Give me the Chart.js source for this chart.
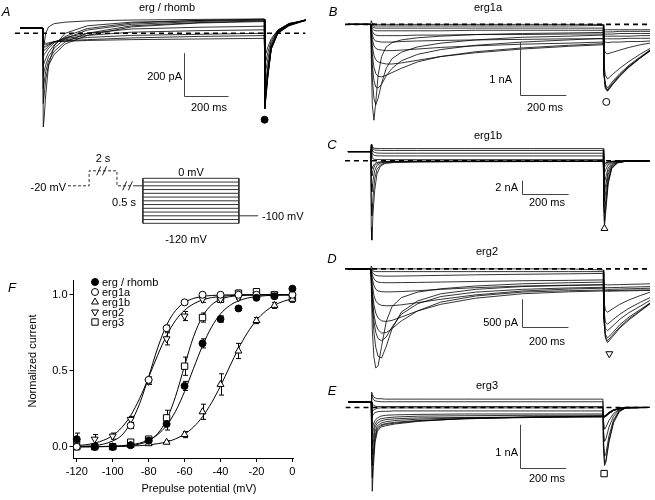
<!DOCTYPE html>
<html>
<head>
<meta charset="utf-8">
<title>erg currents and activation curves</title>
<script src="https://cdn.jsdelivr.net/npm/chart.js@4.4.1/dist/chart.umd.min.js"></script>
<style>
  html, body { margin: 0; padding: 0; background: #fff; }
  #fig { position: relative; width: 655px; height: 500px; overflow: hidden;
         font-family: "Liberation Sans", Arial, Helvetica, sans-serif; font-size: 11px; color: #000; }
  #fig canvas { position: absolute; }
  .t { position: absolute; white-space: nowrap; line-height: 1; }
  .c { transform: translate(-50%, -50%); }
  .l { transform: translate(0, -50%); }
  .r { transform: translate(-100%, -50%); }
  .lab { font-style: italic; font-size: 13px; }
</style>
</head>
<body>
<div id="fig">
  <canvas id="cA" width="305" height="135" style="left:10px;top:0px"></canvas>
  <canvas id="cProto" width="300" height="100" style="left:20px;top:150px"></canvas>
  <canvas id="cF" width="330" height="230" style="left:0px;top:270px"></canvas>
  <canvas id="cB" width="315" height="130" style="left:340px;top:0px"></canvas>
  <canvas id="cC" width="315" height="122" style="left:340px;top:128px"></canvas>
  <canvas id="cD" width="315" height="130" style="left:340px;top:250px"></canvas>
  <canvas id="cE" width="315" height="122" style="left:340px;top:378px"></canvas>

  <!-- panel A -->
  <span class="t c lab" style="left:6px;top:11px">A</span>
  <span class="t c" style="left:167px;top:7px">erg / rhomb</span>
  <span class="t r" style="left:182px;top:76px">200 pA</span>
  <span class="t c" style="left:209px;top:107px">200 ms</span>
  <!-- protocol -->
  <span class="t r" style="left:66px;top:187px">-20 mV</span>
  <span class="t c" style="left:103px;top:158px">2 s</span>
  <span class="t c" style="left:124px;top:202px">0.5 s</span>
  <span class="t c" style="left:191px;top:172px">0 mV</span>
  <span class="t c" style="left:186px;top:239px">-120 mV</span>
  <span class="t l" style="left:262px;top:216px">-100 mV</span>
  <!-- panel B -->
  <span class="t c lab" style="left:333px;top:11px">B</span>
  <span class="t c" style="left:488px;top:7px">erg1a</span>
  <span class="t r" style="left:512px;top:79px">1 nA</span>
  <span class="t c" style="left:545px;top:107px">200 ms</span>
  <!-- panel C -->
  <span class="t c lab" style="left:332px;top:144px">C</span>
  <span class="t c" style="left:488px;top:135px">erg1b</span>
  <span class="t r" style="left:518px;top:187px">2 nA</span>
  <span class="t c" style="left:547px;top:202px">200 ms</span>
  <!-- panel D -->
  <span class="t c lab" style="left:332px;top:258px">D</span>
  <span class="t c" style="left:487px;top:251px">erg2</span>
  <span class="t r" style="left:518px;top:322px">500 pA</span>
  <span class="t c" style="left:547px;top:341px">200 ms</span>
  <!-- panel E -->
  <span class="t c lab" style="left:332px;top:390px">E</span>
  <span class="t c" style="left:487px;top:385px">erg3</span>
  <span class="t r" style="left:518px;top:452px">1 nA</span>
  <span class="t c" style="left:547px;top:478px">200 ms</span>
  <!-- panel F -->
  <span class="t c lab" style="left:12px;top:287px">F</span>
  <span class="t c" style="left:32px;top:361px;transform:translate(-50%,-50%) rotate(-90deg)">Normalized current</span>
  <span class="t c" style="left:199px;top:488px">Prepulse potential (mV)</span>
  <span class="t l" style="left:102px;top:282px">erg / rhomb</span>
  <span class="t l" style="left:102px;top:292px">erg1a</span>
  <span class="t l" style="left:102px;top:302px">erg1b</span>
  <span class="t l" style="left:102px;top:312px">erg2</span>
  <span class="t l" style="left:102px;top:322px">erg3</span>
</div>

<script>
// ── Panel F data: normalized tail current vs prepulse potential ──────────────
const vF = [-120, -110, -100, -90, -80, -70, -60, -50, -40, -30, -20, -10, 0];
const rhombMean = [0.05, 0.00, 0.00, 0.01, 0.04, 0.15, 0.40, 0.68, 0.84, 0.91, 0.98, 0.99, 1.04];
const erg1aMean = [0.00, 0.00, 0.00, 0.14, 0.44, 0.78, 0.95, 1.00, 1.00, 1.00, 1.00, 1.00, 1.00];
const erg1bMean = [0.00, 0.00, 0.00, 0.01, 0.02, 0.03, 0.08, 0.23, 0.41, 0.63, 0.83, 0.93, 0.97];
const erg2Mean  = [0.02, 0.05, 0.07, 0.18, 0.43, 0.71, 0.86, 0.97, 0.97, 0.98, 1.00, 1.00, 0.99];
const erg3Mean  = [0.00, 0.00, 0.00, 0.03, 0.05, 0.19, 0.53, 0.85, 0.97, 1.01, 1.02, 1.00, 0.98];

const rhombErr = [0.04, 0.01, 0.01, 0.01, 0.01, 0.04, 0.03, 0.03, 0.02, 0.01, 0.01, 0.01, 0.01];
const erg1aErr = [0.01, 0.01, 0.01, 0.02, 0.02, 0.02, 0.01, 0.01, 0.01, 0.01, 0.01, 0.01, 0.01];
const erg1bErr = [0.01, 0.01, 0.01, 0.01, 0.01, 0.01, 0.02, 0.05, 0.07, 0.05, 0.02, 0.02, 0.02];
const erg2Err  = [0.03, 0.03, 0.02, 0.02, 0.02, 0.04, 0.03, 0.02, 0.01, 0.01, 0.01, 0.01, 0.01];
const erg3Err  = [0.01, 0.01, 0.01, 0.01, 0.01, 0.05, 0.06, 0.03, 0.02, 0.02, 0.02, 0.01, 0.01];

// fitted curves, read every 5 mV
const vFit = [-120, -115, -110, -105, -100, -95, -90, -85, -80, -75, -70, -65, -60, -55, -50, -45, -40, -35, -30, -25, -20, -15, -10, -5, 0];
const rhombFit = [0.000, 0.001, 0.001, 0.002, 0.004, 0.007, 0.013, 0.024, 0.045, 0.080, 0.140, 0.234, 0.363, 0.516, 0.665, 0.787, 0.874, 0.928, 0.960, 0.978, 0.988, 0.994, 0.997, 0.998, 0.999];
const erg1aFit = [0.002, 0.004, 0.008, 0.018, 0.038, 0.075, 0.156, 0.284, 0.460, 0.649, 0.800, 0.896, 0.949, 0.976, 0.989, 0.995, 0.998, 0.999, 1.000, 1.000, 1.000, 1.000, 1.000, 1.000, 1.000];
const erg1bFit = [0.000, 0.000, 0.001, 0.001, 0.002, 0.003, 0.005, 0.007, 0.012, 0.020, 0.032, 0.052, 0.083, 0.130, 0.198, 0.289, 0.400, 0.525, 0.646, 0.750, 0.832, 0.891, 0.931, 0.957, 0.973];
const erg2Fit  = [0.008, 0.013, 0.024, 0.043, 0.074, 0.126, 0.205, 0.318, 0.456, 0.602, 0.731, 0.831, 0.898, 0.940, 0.966, 0.981, 0.989, 0.994, 0.997, 0.998, 0.999, 1.000, 1.000, 1.000, 1.000];
const erg3Fit  = [0.000, 0.000, 0.000, 0.001, 0.002, 0.003, 0.008, 0.018, 0.039, 0.086, 0.178, 0.332, 0.533, 0.724, 0.858, 0.933, 0.970, 0.987, 0.994, 0.998, 0.999, 1.000, 1.000, 1.000, 1.000];

const xTicksF = [-120, -100, -80, -60, -40, -20, 0];
const yTicksF = [0, 0.5, 1.0];

// ── Panel A: erg / rhomb currents (pA) ────────────────────────────────────────
const tA = [-104, -1, 1, 5, 12, 25, 50, 100, 200, 400, 700, 999, 1001, 1006, 1015, 1030, 1060, 1110, 1187];
const tracesA = [
  [24, 24, -440, -400, -290, -150, -60,   0,  35,  52,  60,  63, -355, -300, -200, -75,  0, 35, 60],
  [24, 24, -330, -290, -215, -150, -100, -50, -10,  30,  48,  55, -350, -295, -195, -72,  2, 37, 62],
  [24, 24, -260, -230, -180, -130,  -85, -40,   0,  35,  50,  58, -340, -285, -190, -70,  3, 38, 61],
  [24, 24, -200, -180, -150, -110,  -70, -25,  15,  42,  55,  62, -330, -280, -185, -68,  5, 40, 63],
  [24, 24, -150, -140, -120,  -90,  -55, -15,  22,  48,  60,  66, -320, -270, -180, -65,  6, 40, 62],
  [24, 24, -110, -100,  -90,  -70,  -45, -20,   0,  20,  28,  33, -300, -255, -170, -62,  8, 42, 64],
  [24, 24,  -80,  -80,  -75,  -60,  -40, -25, -10,   5,  12,  16, -260, -220, -150, -55, 10, 42, 63],
  [24, 24,  -60,  -65,  -63,  -55,  -40, -30, -20, -10,  -5,   0, -200, -170, -120, -45, 12, 45, 60],
  [24, 24,  -40,  -50,  -55,  -50,  -40, -35, -30, -22, -15, -11, -150, -130,  -90, -35, 15, 45, 62],
  [24, 24,  -25,  -40,  -48,  -45,  -40, -38, -34, -30, -27, -24, -110,  -95,  -65, -25, 15, 46, 60],
  [24, 24, -100,  -50,    0,   30,   45,  52,  58,  62,  65,  67, -355, -300, -200, -75,  0, 36, 64]
];

// ── Panel B: erg1a currents (nA) ──────────────────────────────────────────────
const tB = [-100, -1, 0.5, 5, 12, 20, 30, 45, 65, 90, 130, 200, 300, 450, 650, 850, 999, 1001, 1008, 1017, 1040, 1070, 1110, 1160, 1200];
const tracesB = [
  [0, 0, -0.6, -1.5, -1.79, -1.45, -0.95, -0.6, -0.42, -0.34, -0.29, -0.25, -0.22, -0.19, -0.17, -0.16, -0.15, -0.10, -0.10, -0.10, -0.10, -0.10, -0.10, -0.10, -0.10],
  [0, 0, -0.4, -1.0, -1.38, -1.50, -1.38, -1.10, -0.82, -0.64, -0.52, -0.42, -0.35, -0.29, -0.24, -0.22, -0.20, -0.14, -0.14, -0.14, -0.14, -0.13, -0.13, -0.13, -0.13],
  [0, 0, -0.3, -0.75, -1.05, -1.17, -1.19, -1.12, -0.96, -0.82, -0.68, -0.56, -0.47, -0.39, -0.33, -0.29, -0.26, -0.18, -0.18, -0.18, -0.18, -0.17, -0.17, -0.17, -0.17],
  [0, 0, -0.2, -0.55, -0.8, -0.92, -0.97, -0.98, -0.95, -0.90, -0.82, -0.70, -0.60, -0.51, -0.44, -0.39, -0.36, -0.22, -0.22, -0.22, -0.22, -0.22, -0.22, -0.21, -0.21],
  [0, 0, -0.15, -0.4, -0.58, -0.66, -0.70, -0.72, -0.74, -0.74, -0.72, -0.67, -0.60, -0.53, -0.46, -0.41, -0.38, -0.27, -0.27, -0.27, -0.27, -0.27, -0.26, -0.26, -0.26],
  [0, 0, -0.1, -0.28, -0.4, -0.45, -0.47, -0.48, -0.49, -0.49, -0.48, -0.46, -0.43, -0.40, -0.37, -0.35, -0.33, -0.31, -0.33, -0.34, -0.33, -0.33, -0.32, -0.32, -0.31],
  [0, 0, -0.07, -0.2, -0.28, -0.31, -0.32, -0.33, -0.33, -0.33, -0.32, -0.31, -0.30, -0.29, -0.28, -0.27, -0.27, -0.45, -0.53, -0.55, -0.52, -0.48, -0.43, -0.38, -0.35],
  [0, 0, -0.05, -0.13, -0.18, -0.2, -0.21, -0.21, -0.21, -0.21, -0.21, -0.20, -0.20, -0.19, -0.19, -0.18, -0.18, -0.75, -0.95, -1.02, -0.93, -0.82, -0.69, -0.55, -0.45],
  [0, 0, -0.03, -0.08, -0.11, -0.12, -0.12, -0.12, -0.12, -0.12, -0.12, -0.12, -0.12, -0.11, -0.11, -0.11, -0.11, -0.85, -1.12, -1.19, -1.06, -0.92, -0.76, -0.60, -0.48],
  [0, 0, -0.02, -0.05, -0.06, -0.07, -0.07, -0.07, -0.07, -0.07, -0.07, -0.07, -0.07, -0.07, -0.07, -0.07, -0.07, -0.88, -1.16, -1.22, -1.09, -0.94, -0.78, -0.62, -0.49],
  [0, 0, 0, -0.02, -0.03, -0.03, -0.03, -0.03, -0.03, -0.03, -0.03, -0.03, -0.03, -0.03, -0.03, -0.03, -0.02, -0.90, -1.18, -1.24, -1.11, -0.96, -0.79, -0.62, -0.50],
  [0, 0, 0.07, 0.02, 0.01, 0, 0, 0, 0, 0, 0, 0, 0, 0, 0, 0, 0, -0.90, -1.20, -1.25, -1.12, -0.97, -0.80, -0.62, -0.48]
];

// ── Panel C: erg1b currents (nA) ──────────────────────────────────────────────
const tC = [-100, -1, 0.5, 3, 8, 15, 25, 40, 60, 100, 200, 400, 700, 999, 1001, 1004, 1010, 1020, 1035, 1060, 1100, 1200];
const tracesC = [
  [1.39, 1.39, 2.5, 2.3, 2.0, 1.9, 1.88, 1.86, 1.85, 1.85, 1.85, 1.85, 1.85, 1.85, -7.0, -10.0, -7.5, -3.5, -1.2, -0.3, -0.05, 0],
  [1.39, 1.39, 2.4, 2.1, 1.8, 1.65, 1.6, 1.58, 1.57, 1.57, 1.57, 1.57, 1.57, 1.57, -6.5, -9.2, -6.8, -3.2, -1.1, -0.3, -0.05, 0],
  [1.39, 1.39, 2.2, 1.8, 1.4, 1.25, 1.18, 1.16, 1.15, 1.15, 1.15, 1.15, 1.15, 1.15, -5.5, -7.9, -5.8, -2.8, -1.0, -0.25, -0.05, 0],
  [1.39, 1.39, 1.8, 1.3, 0.95, 0.8, 0.76, 0.75, 0.74, 0.74, 0.74, 0.74, 0.74, 0.74, -4.3, -6.1, -4.5, -2.1, -0.8, -0.2, -0.05, 0],
  [1.39, 1.39, 1.0, 0.5, 0.3, 0.22, 0.2, 0.19, 0.18, 0.18, 0.18, 0.18, 0.18, 0.18, -3.2, -4.7, -3.5, -1.6, -0.6, -0.15, -0.03, 0],
  [1.39, 1.39, -1.0, -1.2, -0.8, -0.45, -0.25, -0.15, -0.1, -0.08, -0.06, -0.05, -0.04, -0.04, -2.2, -3.3, -2.4, -1.1, -0.4, -0.1, -0.02, 0],
  [1.39, 1.39, -1.8, -2.3, -1.4, -0.75, -0.4, -0.22, -0.15, -0.1, -0.08, -0.06, -0.05, -0.05, -1.2, -1.8, -1.3, -0.6, -0.25, -0.08, -0.02, 0],
  [1.39, 1.39, -3.5, -4.7, -3.0, -1.5, -0.7, -0.35, -0.2, -0.13, -0.1, -0.08, -0.07, -0.06, -0.6, -0.9, -0.7, -0.35, -0.15, -0.05, -0.01, 0],
  [1.39, 1.39, -6.5, -8.3, -5.5, -2.8, -1.3, -0.6, -0.3, -0.18, -0.13, -0.1, -0.08, -0.08, -0.4, -0.5, -0.4, -0.2, -0.1, -0.04, -0.01, 0],
  [1.39, 1.39, -10.0, -12.0, -8.0, -4.5, -2.0, -0.8, -0.4, -0.25, -0.18, -0.14, -0.12, -0.1, -0.3, -0.35, -0.3, -0.15, -0.08, -0.03, -0.01, 0]
];

// ── Panel D: erg2 currents (pA) ───────────────────────────────────────────────
const tD = [-100, -1, 0.5, 5, 12, 20, 30, 45, 65, 90, 130, 200, 300, 450, 650, 850, 999, 1001, 1008, 1017, 1040, 1070, 1110, 1160, 1200];
const tracesD = [
  [0, 0, -300, -1100, -1600, -1790, -1750, -1400, -950, -680, -520, -420, -360, -310, -270, -250, -240, -270, -285, -290, -288, -285, -280, -275, -270],
  [0, 0, -200, -700, -1150, -1420, -1580, -1610, -1400, -1080, -780, -580, -450, -370, -320, -300, -290, -320, -335, -340, -338, -335, -330, -325, -320],
  [0, 0, -180, -600, -950, -1150, -1260, -1300, -1230, -1050, -820, -630, -500, -420, -370, -345, -333, -350, -365, -370, -368, -365, -360, -355, -350],
  [0, 0, -150, -500, -820, -1000, -1100, -1160, -1150, -1080, -940, -760, -600, -490, -420, -395, -383, -385, -390, -392, -390, -388, -385, -382, -380],
  [0, 0, -120, -400, -650, -800, -890, -940, -950, -930, -870, -760, -640, -530, -450, -415, -400, -400, -405, -405, -403, -400, -397, -393, -390],
  [0, 0, -80, -280, -480, -580, -630, -660, -667, -665, -650, -610, -550, -470, -400, -365, -350, -550, -750, -783, -720, -640, -560, -480, -420],
  [0, 0, -50, -180, -300, -370, -400, -412, -417, -415, -410, -395, -370, -340, -310, -295, -285, -700, -960, -1000, -920, -820, -710, -600, -520],
  [0, 0, -30, -110, -180, -220, -240, -248, -250, -250, -248, -245, -238, -228, -215, -208, -200, -780, -1080, -1117, -1030, -910, -790, -670, -570],
  [0, 0, -15, -60, -100, -118, -126, -130, -132, -132, -130, -125, -118, -108, -98, -90, -83, -850, -1180, -1250, -1150, -1010, -870, -730, -615],
  [0, 0, -8, -30, -45, -50, -50, -50, -50, -50, -50, -50, -50, -50, -50, -50, -50, -880, -1220, -1300, -1190, -1050, -900, -750, -625],
  [0, 0, 50, 10, 0, 0, 0, 0, 0, 0, 0, 0, 0, 0, 0, 0, -20, -900, -1250, -1333, -1220, -1070, -920, -760, -633]
];

// ── Panel E: erg3 currents (nA) ───────────────────────────────────────────────
const tE = [-100, -1, 0.5, 3, 8, 15, 25, 40, 60, 100, 200, 400, 700, 999, 1001, 1006, 1012, 1025, 1045, 1070, 1100, 1200];
const tracesE = [
  [0.125, 0.125, 0.35, 0.3, 0.25, 0.22, 0.2, 0.2, 0.19, 0.19, 0.19, 0.19, 0.19, 0.19, -0.9, -1.33, -1.25, -0.8, -0.35, -0.1, 0, 0],
  [0.125, 0.125, 0.3, 0.25, 0.18, 0.15, 0.14, 0.13, 0.13, 0.13, 0.13, 0.13, 0.13, 0.13, -0.85, -1.28, -1.2, -0.75, -0.32, -0.08, 0, 0],
  [0.125, 0.125, 0.12, 0.08, 0.05, 0.03, 0.02, 0.02, 0.02, 0.02, 0.02, 0.02, 0.02, 0.02, -0.7, -1.12, -1.05, -0.65, -0.28, -0.07, -0.01, 0],
  [0.125, 0.125, -0.12, -0.1, -0.06, -0.04, -0.02, -0.01, -0.01, -0.01, -0.01, -0.01, -0.01, -0.01, -0.5, -0.78, -0.72, -0.45, -0.2, -0.05, -0.01, 0],
  [0.125, 0.125, -0.22, -0.2, -0.15, -0.12, -0.1, -0.09, -0.09, -0.08, -0.08, -0.08, -0.08, -0.08, -0.3, -0.5, -0.45, -0.3, -0.14, -0.04, -0.01, 0],
  [0.125, 0.125, -0.4, -0.47, -0.38, -0.3, -0.24, -0.2, -0.18, -0.17, -0.16, -0.15, -0.15, -0.15, -0.2, -0.22, -0.2, -0.14, -0.07, -0.03, -0.01, 0],
  [0.125, 0.125, -0.55, -0.64, -0.5, -0.38, -0.3, -0.26, -0.24, -0.22, -0.2, -0.19, -0.18, -0.18, -0.21, -0.22, -0.2, -0.14, -0.07, -0.03, -0.01, 0],
  [0.125, 0.125, -0.7, -0.85, -0.65, -0.45, -0.36, -0.31, -0.28, -0.26, -0.24, -0.23, -0.22, -0.22, -0.22, -0.22, -0.2, -0.14, -0.07, -0.03, -0.01, 0],
  [0.125, 0.125, -0.8, -1.09, -0.8, -0.55, -0.42, -0.36, -0.33, -0.3, -0.27, -0.24, -0.22, -0.21, -0.21, -0.21, -0.19, -0.13, -0.06, -0.02, 0, 0],
  [0.125, 0.125, -0.9, -1.33, -1.0, -0.65, -0.47, -0.4, -0.37, -0.34, -0.3, -0.26, -0.23, -0.21, -0.2, -0.2, -0.18, -0.12, -0.06, -0.02, 0, 0],
  [0.125, 0.125, -1.0, -1.61, -1.15, -0.72, -0.5, -0.42, -0.39, -0.36, -0.31, -0.26, -0.22, -0.2, -0.2, -0.2, -0.18, -0.12, -0.06, -0.02, 0, 0],
  [0.125, 0.125, -1.2, -1.92, -1.35, -0.8, -0.55, -0.45, -0.42, -0.38, -0.32, -0.25, -0.22, -0.2, -0.19, -0.19, -0.17, -0.11, -0.05, -0.02, 0, 0]
];

// ── Voltage protocol (schematic, compressed time) ─────────────────────────────
const protoT = [0, 220, 510, 690, 780, 1780, 1980];
const holdV = -20;
const condV = 20;
const tailV = -100;
const testV = [0, -10, -20, -30, -40, -50, -60, -70, -80, -90, -100, -110, -120];

// ── Setup ─────────────────────────────────────────────────────────────────────
Chart.defaults.font.family = '"Liberation Sans", Arial, Helvetica, sans-serif';
Chart.defaults.font.size = 11;
Chart.defaults.color = '#000';

const pts = (xs, ys) => ys.map((y, i) => ({ x: xs[i], y }));

function drawMarker(ctx, style, r, rot, x, y) {
  if (Chart.helpers && Chart.helpers.drawPoint) {
    Chart.helpers.drawPoint(ctx, { pointStyle: style, radius: r, rotation: rot, borderWidth: 1 }, x, y);
    return;
  }
  ctx.beginPath();
  ctx.arc(x, y, r, 0, Math.PI * 2);
  ctx.fill(); ctx.stroke();
}

// scale bar (vertical + horizontal) in data units
const scaleBarPlugin = {
  id: 'scaleBar',
  afterDatasetsDraw(chart, args, o) {
    if (!o || o.t === undefined) return;
    const { x, y } = chart.scales;
    const ctx = chart.ctx;
    const x0 = Math.round(x.getPixelForValue(o.t)) + 0.5;
    const x1 = x.getPixelForValue(o.t + o.dt);
    const y0 = y.getPixelForValue(o.i);
    const y1 = Math.round(y.getPixelForValue(o.i - o.di)) + 0.5;
    ctx.save();
    ctx.strokeStyle = '#444';
    ctx.lineWidth = 1;
    ctx.beginPath();
    ctx.moveTo(x0, y0); ctx.lineTo(x0, y1); ctx.lineTo(x1, y1);
    ctx.stroke();
    ctx.restore();
  }
};

function traceChart(id, times, traces, cfg) {
  const datasets = traces.map(vals => ({
    data: pts(times, vals),
    showLine: true, borderColor: '#000', borderWidth: 0.8,
    borderJoinStyle: 'round', pointRadius: 0, order: 2
  }));
  // zero-current reference
  datasets.push({
    data: [{ x: cfg.zero[0], y: 0 }, { x: cfg.zero[1], y: 0 }],
    showLine: true, borderColor: '#000', borderWidth: 1.6, borderDash: [5, 4],
    pointRadius: 0, order: 0
  });
  // symbol under the tail
  datasets.push({
    data: [{ x: cfg.mark.t, y: cfg.mark.i }],
    showLine: false, pointStyle: cfg.mark.style, pointRadius: cfg.mark.r,
    pointRotation: cfg.mark.rot || 0,
    pointBackgroundColor: cfg.mark.fill, pointBorderColor: '#000', pointBorderWidth: 1, order: 0
  });
  new Chart(document.getElementById(id), {
    type: 'scatter',
    data: { datasets },
    options: {
      responsive: false, animation: false, events: [], devicePixelRatio: 1,
      layout: { padding: 0 },
      plugins: { legend: { display: false }, tooltip: { enabled: false }, scaleBar: cfg.bar },
      scales: {
        x: { type: 'linear', display: false, min: cfg.x[0], max: cfg.x[1] },
        y: { type: 'linear', display: false, min: cfg.y[0], max: cfg.y[1] }
      }
    },
    plugins: [scaleBarPlugin]
  });
}

// ── Trace panels ──────────────────────────────────────────────────────────────
traceChart('cA', tA, tracesA, {
  x: [-126.6, 1205], y: [-454.4, 132.6], zero: [-126.6, 1184],
  bar: { t: 637, i: -93.5, dt: 200, di: 200 },
  mark: { t: 1000, i: -406, style: 'circle', r: 3.5, fill: '#000' }
});
traceChart('cB', tB, tracesB, {
  x: [-112.5, 1200], y: [-1.879, 0.362], zero: [-112.5, 1200],
  bar: { t: 640, i: -0.328, dt: 200, di: 1 },
  mark: { t: 1012, i: -1.448, style: 'circle', r: 3.5, fill: '#fff' }
});
traceChart('cC', tC, tracesC, {
  x: [-112.5, 1200], y: [-12.74, 4.21], zero: [-112.5, 1200],
  bar: { t: 650, i: -3.01, dt: 200, di: 2 },
  mark: { t: 1004, i: -10.24, style: 'triangle', r: 4, fill: '#fff' }
});
traceChart('cD', tD, tracesD, {
  x: [-112.5, 1200], y: [-1917, 250], zero: [-112.5, 1200],
  bar: { t: 649, i: -550, dt: 200, di: 500 },
  mark: { t: 1025, i: -1533, style: 'triangle', r: 4, rot: 180, fill: '#fff' }
});
traceChart('cE', tE, tracesE, {
  x: [-112.5, 1200], y: [-1.994, 0.548], zero: [-112.5, 1200],
  bar: { t: 640, i: -0.396, dt: 200, di: 1 },
  mark: { t: 1004, i: -1.515, style: 'rect', r: 4.5, fill: '#fff' }
});

// ── Voltage protocol ──────────────────────────────────────────────────────────
const breakPlugin = {
  id: 'breaks',
  afterDatasetsDraw(chart, args, o) {
    const { x, y } = chart.scales;
    const ctx = chart.ctx;
    ctx.save();
    ctx.strokeStyle = '#222';
    ctx.lineWidth = 1;
    (o.marks || []).forEach(m => {
      const px = x.getPixelForValue(m.t), py = y.getPixelForValue(m.v);
      ctx.beginPath();
      ctx.moveTo(px - 2, py + 4.5);
      ctx.lineTo(px + 2, py - 4.5);
      ctx.stroke();
    });
    ctx.restore();
  }
};

(function protocolChart() {
  const [T0, T1, T2, T3, T4, T5, T6] = protoT;
  const line = (data, dash) => ({
    data, showLine: true, borderColor: '#333', borderWidth: 1,
    borderDash: dash || [], pointRadius: 0
  });
  const datasets = [
    line([{ x: T0, y: holdV }, { x: T1, y: holdV }, { x: T1, y: condV }, { x: T2, y: condV },
          { x: T2, y: holdV }, { x: T3, y: holdV }], [3, 2]),
    line([{ x: T3, y: holdV }, { x: T4, y: holdV }]),
    line([{ x: T4, y: testV[0] }, { x: T4, y: testV[testV.length - 1] }]),
    line([{ x: T5, y: testV[0] }, { x: T5, y: testV[testV.length - 1] }]),
    line([{ x: T5, y: tailV }, { x: T6, y: tailV }])
  ];
  testV.forEach(v => datasets.push(line([{ x: T4, y: v }, { x: T5, y: v }])));

  new Chart(document.getElementById('cProto'), {
    type: 'scatter',
    data: { datasets },
    options: {
      responsive: false, animation: false, events: [], devicePixelRatio: 1,
      layout: { padding: 0 },
      plugins: {
        legend: { display: false }, tooltip: { enabled: false },
        breaks: { marks: [{ t: 320, v: condV }, { t: 380, v: condV }, { t: 590, v: holdV }, { t: 650, v: holdV }] }
      },
      scales: {
        x: { type: 'linear', display: false, min: -500, max: 2625 },
        y: { type: 'linear', display: false, min: -191.2, max: 75.5 }
      }
    },
    plugins: [breakPlugin]
  });
})();

// ── Panel F: activation curves ────────────────────────────────────────────────
const errorBarPlugin = {
  id: 'errBars',
  beforeDatasetsDraw(chart) {
    const ctx = chart.ctx, ys = chart.scales.y;
    ctx.save();
    ctx.strokeStyle = '#000';
    ctx.lineWidth = 1;
    chart.data.datasets.forEach((ds, i) => {
      if (!ds.errors) return;
      const meta = chart.getDatasetMeta(i);
      meta.data.forEach((pt, j) => {
        const e = ds.errors[j];
        if (!e) return;
        const v = ds.data[j].y;
        const yt = ys.getPixelForValue(v + e), yb = ys.getPixelForValue(v - e);
        const px = Math.round(pt.x) + 0.5;
        ctx.beginPath();
        ctx.moveTo(px, yt); ctx.lineTo(px, yb);
        ctx.moveTo(px - 2.5, yt); ctx.lineTo(px + 2.5, yt);
        ctx.moveTo(px - 2.5, yb); ctx.lineTo(px + 2.5, yb);
        ctx.stroke();
      });
    });
    ctx.restore();
  }
};

const legendPlugin = {
  id: 'fLegend',
  afterDraw(chart, args, o) {
    const ctx = chart.ctx;
    o.items.forEach((idx, k) => {
      const ds = chart.data.datasets[idx];
      ctx.save();
      ctx.fillStyle = ds.pointBackgroundColor;
      ctx.strokeStyle = '#000';
      ctx.lineWidth = 1;
      drawMarker(ctx, ds.pointStyle, ds.pointRadius, ds.pointRotation || 0, o.x, o.y0 + k * o.dy);
      ctx.restore();
    });
  }
};

const seriesF = [
  { mean: rhombMean, err: rhombErr, fit: rhombFit, style: 'circle',   r: 3.5, rot: 0,   fill: '#000' },
  { mean: erg1aMean, err: erg1aErr, fit: erg1aFit, style: 'circle',   r: 3.5, rot: 0,   fill: '#fff' },
  { mean: erg1bMean, err: erg1bErr, fit: erg1bFit, style: 'triangle', r: 4,   rot: 0,   fill: '#fff' },
  { mean: erg2Mean,  err: erg2Err,  fit: erg2Fit,  style: 'triangle', r: 4,   rot: 180, fill: '#fff' },
  { mean: erg3Mean,  err: erg3Err,  fit: erg3Fit,  style: 'rect',     r: 4.5, rot: 0,   fill: '#fff' }
];

const fDatasets = [];
seriesF.forEach(s => {
  fDatasets.push({
    data: pts(vF, s.mean), errors: s.err, showLine: false,
    pointStyle: s.style, pointRadius: s.r, pointRotation: s.rot,
    pointBackgroundColor: s.fill, pointBorderColor: '#000', pointBorderWidth: 1,
    order: 0, clip: false
  });
});
seriesF.forEach(s => {
  fDatasets.push({
    data: pts(vFit, s.fit), showLine: true, borderColor: '#000', borderWidth: 1,
    cubicInterpolationMode: 'monotone', pointRadius: 0, order: 1, clip: false
  });
});

const axisCommon = {
  type: 'linear',
  grid: { display: true, drawOnChartArea: false, drawTicks: true, tickLength: 4, color: '#000', lineWidth: 1 },
  border: { display: true, color: '#000', width: 1 },
  title: { display: false }
};

new Chart(document.getElementById('cF'), {
  type: 'scatter',
  data: { datasets: fDatasets },
  options: {
    responsive: false, animation: false, events: [], devicePixelRatio: 1,
    layout: { padding: { left: 0, top: 10, right: 36.7, bottom: 0 } },
    plugins: {
      legend: { display: false }, tooltip: { enabled: false },
      fLegend: { items: [0, 1, 2, 3, 4], x: 95, y0: 12, dy: 10 }
    },
    scales: {
      x: {
        ...axisCommon, min: -121.8, max: 0.5,
        afterBuildTicks: s => { s.ticks = xTicksF.map(v => ({ value: v })); },
        afterFit: s => { s.height = 42; },
        ticks: { padding: 3, autoSkip: false, maxRotation: 0, callback: v => String(v), font: { size: 11 } }
      },
      y: {
        ...axisCommon, min: -0.074, max: 1.097,
        afterBuildTicks: s => { s.ticks = yTicksF.map(v => ({ value: v })); },
        afterFit: s => { s.width = 73.5; },
        ticks: { padding: 2, callback: v => Number(v).toFixed(1), font: { size: 11 } }
      }
    }
  },
  plugins: [errorBarPlugin, legendPlugin]
});
</script>
</body>
</html>
